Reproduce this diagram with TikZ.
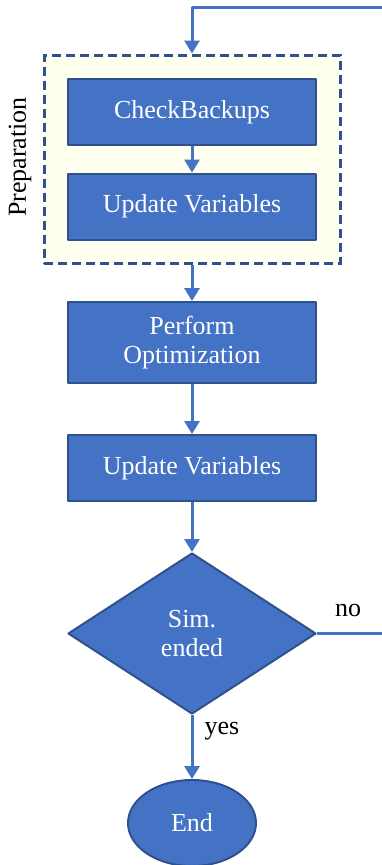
\documentclass[tikz,border=0pt]{standalone}
\usepackage{fontspec}
\setmainfont{Liberation Serif}
\usetikzlibrary{arrows.meta,shapes.geometric,fit,backgrounds}
\definecolor{boxblue}{HTML}{4472C4}
\definecolor{edgeblue}{HTML}{2F528F}
\definecolor{prepfill}{HTML}{FFFFF0}
\begin{document}
\begin{tikzpicture}[x=1pt, y=-1pt, line join=round, font=\fontsize{26}{29}\selectfont,
	flow/.style={draw=boxblue, line width=3pt, -{Triangle[width=15pt,length=13pt]}},
	procbox/.style={rectangle, draw=edgeblue, fill=boxblue, line width=2pt, text=white,
		minimum width=248pt, minimum height=66pt, inner sep=0pt, align=center},
	decbox/.style={diamond, draw=edgeblue, fill=boxblue, line width=2pt, text=white,
		minimum width=248pt, minimum height=161pt, inner sep=0pt, align=center},
	endbox/.style={ellipse, draw=edgeblue, fill=boxblue, line width=2pt, text=white,
		minimum width=128pt, minimum height=86pt, inner sep=0pt},
	groupbox/.style={rectangle, draw=edgeblue, fill=prepfill, line width=3pt,
		dash pattern=on 9pt off 5pt, inner sep=23pt}]
	\useasboundingbox (0,0) rectangle (382,865);
	%%%%%%%%%%%%%%%%%%%%%%%%%%%%%%%%%
	\node[procbox] (check) at (192,112) {CheckBackups};
	\node[procbox] (upda) at (192,206.5) {Update Variables};
	\node[procbox, minimum height=81pt] (perf) at (192,342.5) {Perform\\Optimization};
	\node[procbox] (updb) at (192,468) {Update Variables};
	\node[decbox] (sim) at (192,633.5) {Sim.\\ended};
	\node[endbox] (end) at (192,823) {End};
	%%%%%%%%%%%%%%%%%%%%%%%%%%%%%%%%%
	\begin{scope}[on background layer]
		\node[groupbox, fit=(check)(upda)] (prep) {};
	\end{scope}
	\node[rotate=90] (preplabel) at (20,157) {Preparation};
	%%%%%%%%%%%%%%%%%%%%%%%%%%%%%%%%%
	\coordinate (loopA) at (400,633.5);
	\coordinate (loopB) at (400,7);
	\coordinate (loopC) at (192,7);
	\draw[flow] (check) -- (upda);
	\draw[flow] (prep) -- (perf);
	\draw[flow] (perf) -- (updb);
	\draw[flow] (updb) -- (sim);
	\draw[flow] (sim) -- (end);
	\draw[flow] (sim.east) -- (loopA) -- (loopB) -- (loopC) -- (prep.north);
	\node (no) at (348,610) {no};
	\node (yes) at (222,731) {yes};
	%%%%%%%%%%%%%%%%%%%%%%%%%%%%%%%%%
\end{tikzpicture}
\end{document}
